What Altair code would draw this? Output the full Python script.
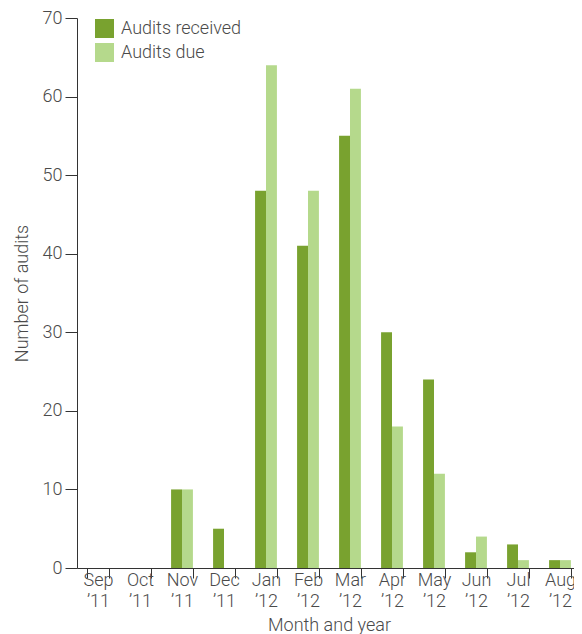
import altair as alt
import pandas as pd

months = ["Sep ’11", "Oct ’11", "Nov ’11", "Dec ’11", "Jan ’12", "Feb ’12",
          "Mar ’12", "Apr ’12", "May ’12", "Jun ’12", "Jul ’12", "Aug ’12"]
received = [0, 0, 10, 5, 48, 41, 55, 30, 24, 2, 3, 1]
due = [0, 0, 10, 0, 64, 48, 61, 18, 12, 4, 1, 1]
series = ["Audits received", "Audits due"]
colors = ["#79a22f", "#b5d98c"]

rows = []
for i, m in enumerate(months):
    rows.append({"month": m, "series": series[0], "value": received[i]})
    rows.append({"month": m, "series": series[1], "value": due[i]})
df = pd.DataFrame(rows)

font = "Roboto"
fw = 300
tc = "#4a4a4a"

chart = alt.Chart(df).mark_bar().encode(
    x=alt.X("month:N", sort=months, title="Month and year",
            scale=alt.Scale(paddingInner=0.48, paddingOuter=0.24),
            axis=alt.Axis(labelAngle=0, tickBand="extent", tickSize=10,
                          labelExpr="datum.value ? split(datum.value, ' ') : ''",
                          labelLineHeight=21, labelPadding=-7,
                          labelFontSize=18, labelColor=tc, labelFont=font,
                          labelFontWeight=fw, labelBaseline="top",
                          titleFontSize=18, titleColor=tc, titleFont=font,
                          titleFontWeight=fw, titleY=62, titleBaseline="alphabetic",
                          domainColor="#333", tickColor="#333")),
    xOffset=alt.XOffset("series:N", sort=series),
    y=alt.Y("value:Q", title="Number of audits",
            scale=alt.Scale(domain=[0, 70]),
            axis=alt.Axis(values=[0, 10, 20, 30, 40, 50, 60, 70], grid=False,
                          tickSize=12, labelPadding=3,
                          labelFontSize=18, labelColor=tc, labelFont=font,
                          labelFontWeight=fw,
                          titleFontSize=18, titleColor=tc, titleFont=font,
                          titleFontWeight=fw, titlePadding=11,
                          domainColor="#333", tickColor="#333")),
    color=alt.Color("series:N", sort=series,
                    scale=alt.Scale(domain=series, range=colors),
                    legend=alt.Legend(title=None, orient="none", legendX=18, legendY=1,
                                      symbolType="square", symbolSize=361,
                                      symbolStrokeWidth=0, symbolOpacity=1,
                                      labelFontSize=18, labelColor=tc,
                                      labelFont=font, labelFontWeight=fw,
                                      rowPadding=5, labelOffset=7)),
).properties(
    width=504, height=550,
    autosize=alt.AutoSizeParams(type="none"),
    padding={"left": 69, "top": 10, "right": -7, "bottom": 66},
).configure_view(stroke=None)

chart.save("out.html", embed_options={"renderer": "svg", "actions": False})
